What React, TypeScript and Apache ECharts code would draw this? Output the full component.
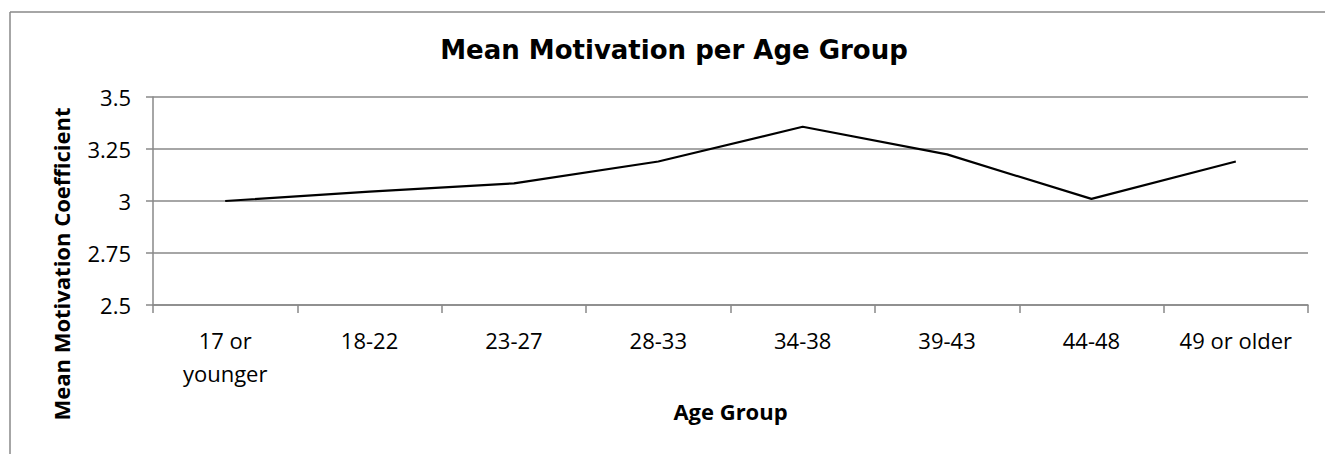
import React, { useEffect, useRef } from "react";
import * as echarts from "echarts";

const categories = ["17 or younger", "18-22", "23-27", "28-33", "34-38", "39-43", "44-48", "49 or older"];
const meanMotivation = [3.0, 3.045, 3.085, 3.19, 3.357, 3.224, 3.01, 3.19];
const chartTitle = "Mean Motivation per Age Group";
const xTitle = "Age Group";
const yTitle = "Mean Motivation Coefficient";
const yMin = 2.5;
const yMax = 3.5;
const yStep = 0.25;

const labelFont = "'Open Sans', Lato, sans-serif";

export default function App() {
  const ref = useRef<HTMLDivElement>(null);
  useEffect(() => {
    if (!ref.current) return;
    const chart = echarts.init(ref.current, null, { renderer: "svg" });
    chart.setOption({
      animation: false,
      backgroundColor: "#ffffff",
      graphic: [
        {
          type: "line",
          shape: { x1: 10, y1: 12, x2: 1325, y2: 12 },
          style: { stroke: "#898989", lineWidth: 1.5 },
          silent: true,
        },
        {
          type: "line",
          shape: { x1: 10, y1: 12, x2: 10, y2: 454 },
          style: { stroke: "#898989", lineWidth: 1.5 },
          silent: true,
        },
        {
          type: "text",
          x: 674,
          y: 50,
          style: {
            text: chartTitle,
            font: "bold 26px 'DejaVu Sans', Verdana, sans-serif",
            fill: "#000",
            align: "center",
            verticalAlign: "middle",
          },
        },
        {
          type: "text",
          x: 61,
          y: 264,
          rotation: Math.PI / 2,
          style: {
            text: yTitle,
            font: `bold 22px ${labelFont}`,
            fill: "#000",
            align: "center",
            verticalAlign: "middle",
          },
        },
      ],
      grid: { left: 153, right: 17, top: 97, bottom: 149, containLabel: false },
      xAxis: {
        type: "category",
        data: categories,
        boundaryGap: true,
        name: xTitle,
        nameLocation: "middle",
        nameGap: 95,
        nameTextStyle: { fontFamily: labelFont, fontWeight: "bold", fontSize: 22, color: "#000" },
        axisLine: { show: true, lineStyle: { color: "#898989", width: 1.5 } },
        axisTick: { show: true, length: 8, alignWithLabel: false, lineStyle: { color: "#898989", width: 1.5 } },
        axisLabel: {
          fontFamily: labelFont,
          fontSize: 22,
          color: "#000",
          margin: 18,
          lineHeight: 33,
          interval: 0,
          formatter: (v: string) => (v === "17 or younger" ? "17 or\nyounger" : v),
        },
        splitLine: { show: false },
      },
      yAxis: {
        type: "value",
        min: yMin,
        max: yMax,
        interval: yStep,
        axisLine: { show: true, lineStyle: { color: "#898989", width: 1.5 } },
        axisTick: { show: true, length: 7, lineStyle: { color: "#898989", width: 1.5 } },
        axisLabel: {
          fontFamily: labelFont,
          fontSize: 22,
          color: "#000",
          margin: 22,
          formatter: (v: number) => String(v),
        },
        splitLine: { show: true, lineStyle: { color: "#898989", width: 1.5 } },
      },
      series: [
        {
          type: "line",
          data: meanMotivation,
          symbol: "none",
          lineStyle: { color: "#000", width: 2.2 },
        },
      ],
    });
    return () => chart.dispose();
  }, []);
  return (
    <div
      ref={ref}
      style={{ position: "fixed", left: 0, top: 0, width: 1325, height: 454 }}
    />
  );
}
